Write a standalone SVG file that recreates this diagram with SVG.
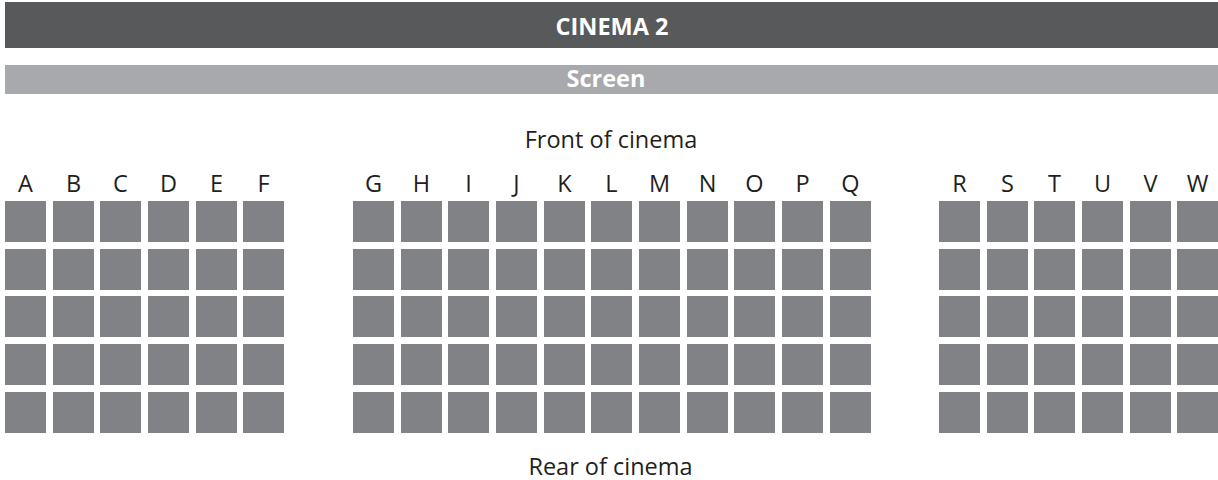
<svg xmlns="http://www.w3.org/2000/svg" width="1218" height="480" viewBox="0 0 1218 480">
<style>
.seat{fill:#808285}
.lbl{font-family:"Open Sans","Noto Sans",sans-serif;font-size:23.5px;fill:#231f20;text-anchor:middle}
.hdr{font-family:"Open Sans","Noto Sans",sans-serif;font-size:23.5px;font-weight:bold;fill:#ffffff;text-anchor:middle}
</style>
<defs>
<g id="col">
<rect class="seat" x="0" y="201" width="41" height="41"/>
<rect class="seat" x="0" y="249" width="41" height="41"/>
<rect class="seat" x="0" y="296" width="41" height="41"/>
<rect class="seat" x="0" y="344" width="41" height="41"/>
<rect class="seat" x="0" y="392" width="41" height="41"/>
</g>
</defs>
<g id="title">
<rect x="5" y="2" width="1213" height="46" fill="#58595b"/>
<text class="hdr" x="612" y="35">CINEMA 2</text>
</g>
<g id="screen">
<rect x="5" y="65" width="1213" height="29" fill="#a7a9ac"/>
<text class="hdr" x="606" y="87">Screen</text>
</g>
<g id="front"><text class="lbl" x="611" y="148">Front of cinema</text></g>
<g id="rear"><text class="lbl" x="610.5" y="475">Rear of cinema</text></g>
<g id="block-left">
<use href="#col" x="5"/><use href="#col" x="53"/><use href="#col" x="100"/><use href="#col" x="148"/><use href="#col" x="196"/><use href="#col" x="243"/>
<text class="lbl" x="25.5" y="192">A</text><text class="lbl" x="73.5" y="192">B</text><text class="lbl" x="120.5" y="192">C</text><text class="lbl" x="168.5" y="192">D</text><text class="lbl" x="216.5" y="192">E</text><text class="lbl" x="263.5" y="192">F</text>
</g>
<g id="block-middle">
<use href="#col" x="353"/><use href="#col" x="401"/><use href="#col" x="448"/><use href="#col" x="496"/><use href="#col" x="544"/><use href="#col" x="591"/><use href="#col" x="639"/><use href="#col" x="687"/><use href="#col" x="734"/><use href="#col" x="782"/><use href="#col" x="830"/>
<text class="lbl" x="373.5" y="192">G</text><text class="lbl" x="421.5" y="192">H</text><text class="lbl" x="468.5" y="192">I</text><text class="lbl" x="516.5" y="192">J</text><text class="lbl" x="564.5" y="192">K</text><text class="lbl" x="611.5" y="192">L</text><text class="lbl" x="659.5" y="192">M</text><text class="lbl" x="707.5" y="192">N</text><text class="lbl" x="754.5" y="192">O</text><text class="lbl" x="802.5" y="192">P</text><text class="lbl" x="850.5" y="192">Q</text>
</g>
<g id="block-right">
<use href="#col" x="939"/><use href="#col" x="987"/><use href="#col" x="1034"/><use href="#col" x="1082"/><use href="#col" x="1130"/><use href="#col" x="1177"/>
<text class="lbl" x="959.5" y="192">R</text><text class="lbl" x="1007.5" y="192">S</text><text class="lbl" x="1054.5" y="192">T</text><text class="lbl" x="1102.5" y="192">U</text><text class="lbl" x="1150.5" y="192">V</text><text class="lbl" x="1197.5" y="192">W</text>
</g>
<g id="connectors"/>
</svg>
